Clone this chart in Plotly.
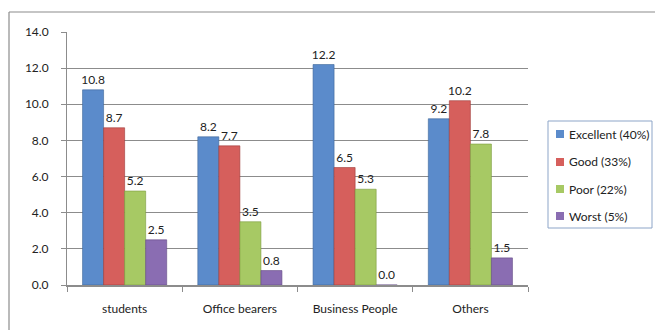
import plotly.graph_objects as go

categories = ["students", "Office bearers", "Business People", "Others"]
excellent = [10.8, 8.2, 12.2, 9.2]
good = [8.7, 7.7, 6.5, 10.2]
poor = [5.2, 3.5, 5.3, 7.8]
worst = [2.5, 0.8, 0.0, 1.5]

series = [
    ("Excellent (40%)", excellent, "#5B8BCB", "#3E6699"),
    ("Good (33%)", good, "#D65F5C", "#9E3B39"),
    ("Poor (22%)", poor, "#A7C964", "#7A9A3D"),
    ("Worst (5%)", worst, "#8A6DB2", "#634A85"),
]

FONT = "Lato"
TXT = "#222"
GRID = "#8c8c8c"

fig = go.Figure()
for name, vals, color, edge in series:
    fig.add_trace(go.Bar(
        x=categories, y=vals, name=name,
        marker=dict(color=color, line=dict(color=edge, width=0.6)),
        text=[f"{v:.1f}" for v in vals], textposition="outside",
        textfont=dict(family=FONT, size=12, color=TXT),
        cliponaxis=False, showlegend=False,
    ))

# plot area in pixels
W, H = 655, 330
L, R, T, B = 67, 528, 32, 285
pw, ph = R - L, B - T

def px(x):
    return (x - L) / pw

def py(y):
    return (B - y) / ph

shapes = [
    # chart frame (left and top edges)
    dict(type="line", xref="paper", yref="paper",
         x0=px(9), x1=px(9), y0=py(12), y1=py(332),
         line=dict(color=GRID, width=1.2)),
    dict(type="line", xref="paper", yref="paper",
         x0=px(9), x1=px(656), y0=py(12), y1=py(12),
         line=dict(color=GRID, width=1.2)),
    # legend box
    dict(type="rect", xref="paper", yref="paper",
         x0=px(548), x1=px(652), y0=py(121), y1=py(228),
         line=dict(color="#8DA5C8", width=1), fillcolor="white", layer="below"),
]
annotations = []
row_y = [134, 162, 189, 216]
for (name, vals, color, edge), yc in zip(series, row_y):
    shapes.append(dict(type="rect", xref="paper", yref="paper",
                       x0=px(556), x1=px(564), y0=py(yc - 4), y1=py(yc + 4),
                       line=dict(width=0), fillcolor=color))
    annotations.append(dict(xref="paper", yref="paper", x=px(567), y=py(yc),
                            xanchor="left", yanchor="middle", showarrow=False,
                            text=name, font=dict(family=FONT, size=12, color=TXT)))

fig.update_layout(
    width=W, height=H,
    margin=dict(l=L, r=W - R, t=T, b=H - B, pad=0, autoexpand=False),
    paper_bgcolor="white", plot_bgcolor="white",
    barmode="group", bargap=0.27, bargroupgap=0,
    font=dict(family=FONT, size=12, color=TXT),
    showlegend=False,
    uniformtext=dict(mode="show", minsize=12),
    shapes=shapes, annotations=annotations,
)
fig.update_yaxes(
    range=[0, 14], dtick=2, tickformat=".1f",
    showgrid=True, gridcolor=GRID, gridwidth=1,
    showline=True, linecolor=GRID, linewidth=1,
    ticks="outside", ticklen=5, tickcolor=GRID,
    ticklabelstandoff=10,
    tickfont=dict(family=FONT, size=12, color=TXT),
    zeroline=False,
)
fig.update_xaxes(
    showline=True, linecolor=GRID, linewidth=1.5,
    ticks="outside", ticklen=5, tickcolor=GRID, tickson="boundaries",
    ticklabelstandoff=12,
    tickfont=dict(family=FONT, size=12, color=TXT),
)

fig.write_html("out.html")
